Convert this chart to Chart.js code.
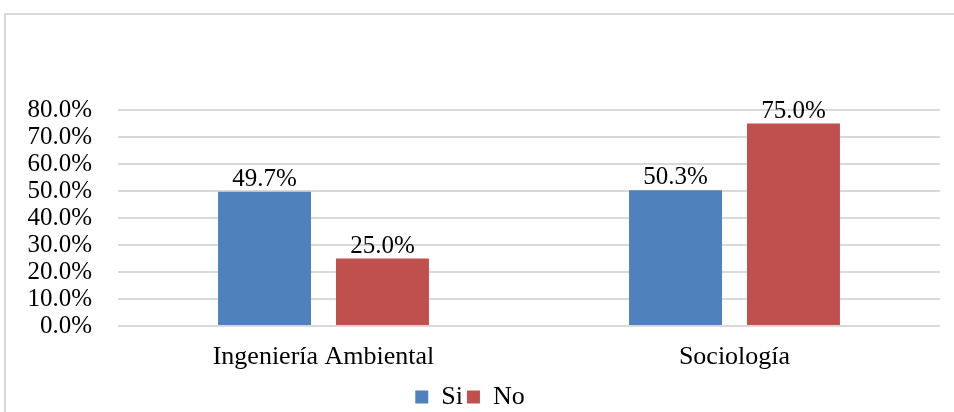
<!DOCTYPE html>
<html><head><meta charset="utf-8">
<script src="https://cdn.jsdelivr.net/npm/chart.js@4"></script>
<style>
html,body{margin:0;padding:0;background:#fff;overflow:hidden;font-family:"Liberation Serif",serif}
#wrap{position:relative;width:954px;height:412px;overflow:hidden}
</style></head>
<body><div id="wrap"><canvas id="c" width="954" height="420"></canvas></div>
<script>
const categories = ["Ingeniería Ambiental", "Sociología"];
const seriesNames = ["Si", "No"];
const siValues = [49.7, 50.3];
const noValues = [25.0, 75.0];
const yTicks = [0, 10, 20, 30, 40, 50, 60, 70, 80];

const FONT = '"Liberation Serif"';
const FS = 25;
const FS_CAT = 26;

const borderPlugin = {
  id: 'border',
  beforeDraw(chart) {
    const ctx = chart.ctx;
    ctx.save();
    ctx.fillStyle = '#fff';
    ctx.fillRect(0, 0, chart.width, chart.height);
    ctx.strokeStyle = '#d9d9d9';
    ctx.lineWidth = 2;
    ctx.strokeRect(5, 14, 1000, 500);
    ctx.restore();
  }
};

const labelPlugin = {
  id: 'valLabels',
  afterDatasetsDraw(chart) {
    const ctx = chart.ctx;
    ctx.save();
    ctx.font = FS + 'px ' + FONT;
    ctx.fillStyle = '#000';
    ctx.textAlign = 'center';
    ctx.textBaseline = 'bottom';
    chart.data.datasets.forEach((ds, i) => {
      chart.getDatasetMeta(i).data.forEach((bar, j) => {
        ctx.fillText(ds.data[j].toFixed(1) + '%', bar.x, bar.y);
      });
    });
    ctx.restore();
  }
};

function draw() {
  new Chart(document.getElementById('c'), {
    type: 'bar',
    data: {
      labels: categories,
      datasets: [
        { label: seriesNames[0], data: siValues, backgroundColor: '#4F81BD' },
        { label: seriesNames[1], data: noValues, backgroundColor: '#C0504D' }
      ]
    },
    options: {
      responsive: false,
      animation: false,
      devicePixelRatio: 1,
      categoryPercentage: 0.574,
      barPercentage: 0.788,
      layout: { padding: { top: 110, right: 14, left: 0, bottom: 0 } },
      plugins: {
        legend: {
          position: 'bottom',
          labels: {
            font: { family: FONT, size: FS_CAT },
            color: '#000',
            boxWidth: 13,
            boxHeight: 13,
            padding: 4
          }
        },
        tooltip: { enabled: false }
      },
      scales: {
        x: {
          afterFit(scale) { scale.height = 54; },
          grid: { display: false, drawTicks: false },
          border: { display: false },
          ticks: { font: { family: FONT, size: FS_CAT }, color: '#000', padding: 16 }
        },
        y: {
          min: 0, max: 80,
          afterBuildTicks(scale) { scale.ticks = yTicks.map(v => ({ value: v })); },
          afterFit(scale) { scale.width = 118; },
          grid: { color: '#d9d9d9', lineWidth: 2, drawTicks: false },
          border: { display: false },
          ticks: {
            autoSkip: false,
            font: { family: FONT, size: FS }, color: '#000', padding: 26,
            callback: v => v.toFixed(1) + '%'
          }
        }
      }
    },
    plugins: [borderPlugin, labelPlugin]
  });
}
if (document.fonts && document.fonts.load) {
  document.fonts.load('25px "Liberation Serif"').then(draw, draw);
} else { draw(); }
</script></body></html>
